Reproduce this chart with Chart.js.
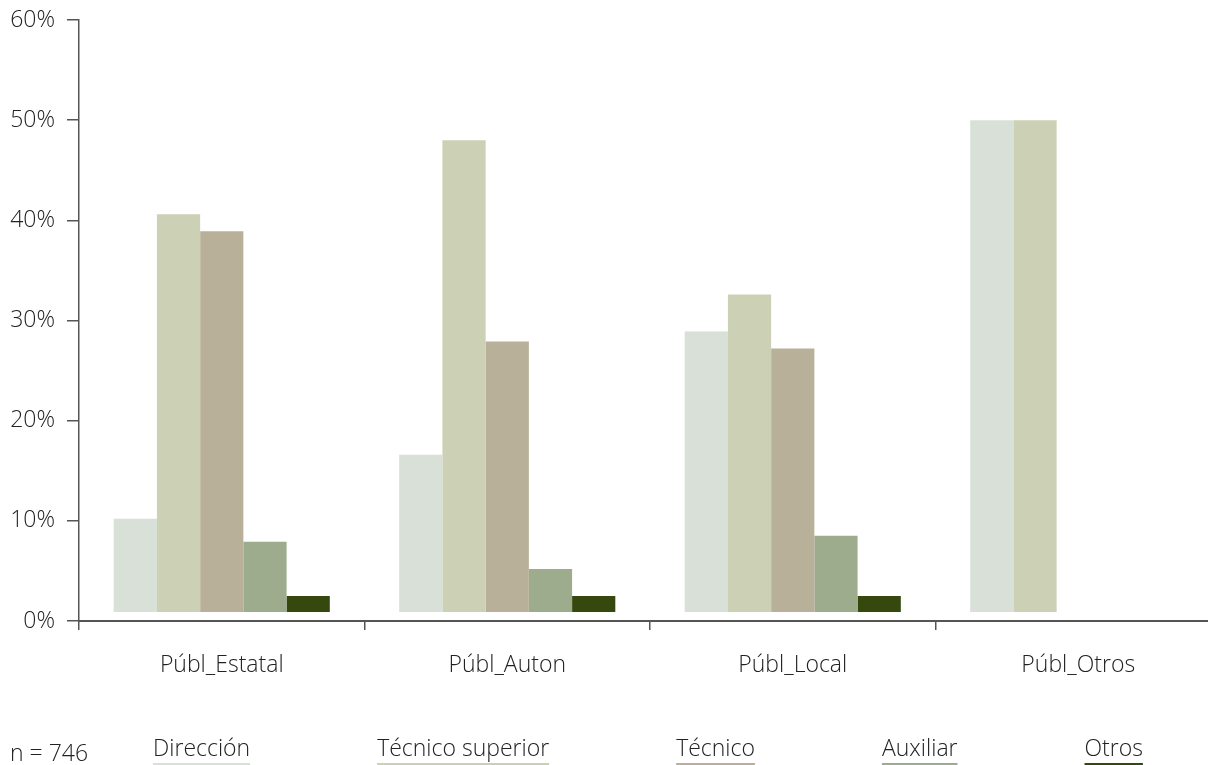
<!DOCTYPE html>
<html lang="es">
<head>
    <meta charset="UTF-8">
    <title>Puesto por sector público</title>
    <script src="https://cdn.jsdelivr.net/npm/chart.js"></script>
    <style>
        body {
            margin: 0;
            padding: 0;
            background-color: #fff;
            overflow: hidden;
        }
        .chart-box {
            width: 1221px;
            height: 765px;
        }
    </style>
</head>
<body>
    <div class="chart-box">
        <canvas id="puestoChart" width="1221" height="765"></canvas>
    </div>

    <script>
        // Categories and series (percent of respondents)
        const sectores = ['Públ_Estatal', 'Públ_Auton', 'Públ_Local', 'Públ_Otros'];
        const direccion = [10.2, 16.6, 28.9, 50.0];
        const tecnicoSuperior = [40.6, 48.0, 32.6, 50.0];
        const tecnico = [38.9, 27.9, 27.2, null];
        const auxiliar = [7.9, 5.2, 8.5, null];
        const otros = [2.5, 2.5, 2.5, null];
        const yTicks = [0, 10, 20, 30, 40, 50, 60];
        const muestra = 'n = 746';

        // bars in the original sit slightly above the axis
        const barBase = 0.9;

        const fontFamily = '"Open Sans", Lato, "Liberation Sans", sans-serif';
        const fontSize = 23;
        const textColor = '#222';
        const axisColor = '#555';

        function serie(label, data, color) {
            return {
                label: label,
                data: data,
                backgroundColor: color,
                borderWidth: 0,
                base: barBase,
                categoryPercentage: 0.757,
                barPercentage: 1.0
            };
        }

        // legend drawn under the chart: text with a coloured line beneath
        const underlineLegend = {
            id: 'underlineLegend',
            afterDraw(chart) {
                const ctx = chart.ctx;
                ctx.save();
                ctx.font = '300 ' + fontSize + 'px ' + fontFamily;
                ctx.fillStyle = textColor;
                ctx.textAlign = 'left';
                ctx.textBaseline = 'alphabetic';
                ctx.fillText(muestra, 10, 761);

                let x = 153;
                chart.data.datasets.forEach(ds => {
                    const w = ctx.measureText(ds.label).width;
                    ctx.fillStyle = textColor;
                    ctx.fillText(ds.label, x, 756);
                    ctx.strokeStyle = ds.backgroundColor;
                    ctx.lineWidth = 2;
                    ctx.beginPath();
                    ctx.moveTo(x, 764);
                    ctx.lineTo(x + w, 764);
                    ctx.stroke();
                    x += w + 127;
                });
                ctx.restore();
            }
        };

        const ctx = document.getElementById('puestoChart').getContext('2d');
        const puestoChart = new Chart(ctx, {
            type: 'bar',
            data: {
                labels: sectores,
                datasets: [
                    serie('Dirección', direccion, '#d8e0d8'),
                    serie('Técnico superior', tecnicoSuperior, '#ccd0b4'),
                    serie('Técnico', tecnico, '#b8b098'),
                    serie('Auxiliar', auxiliar, '#9cac8c'),
                    serie('Otros', otros, '#36480e')
                ]
            },
            options: {
                responsive: false,
                animation: false,
                layout: {
                    padding: 0
                },
                plugins: {
                    legend: { display: false },
                    tooltip: { enabled: false }
                },
                scales: {
                    x: {
                        grid: {
                            offset: true,
                            drawOnChartArea: false,
                            drawTicks: true,
                            tickLength: 9,
                            color: axisColor,
                            lineWidth: 1.5
                        },
                        border: { color: axisColor, width: 2 },
                        ticks: {
                            color: textColor,
                            padding: 22,
                            font: { family: fontFamily, size: fontSize, weight: '300' }
                        },
                        afterFit(scale) {
                            scale.height = 144;
                        }
                    },
                    y: {
                        min: 0,
                        max: 60,
                        afterBuildTicks(scale) {
                            scale.ticks = yTicks.map(v => ({ value: v }));
                        },
                        grid: {
                            drawOnChartArea: false,
                            drawTicks: true,
                            tickLength: 12,
                            color: axisColor,
                            lineWidth: 1.5
                        },
                        border: { color: axisColor, width: 1.5 },
                        ticks: {
                            color: textColor,
                            padding: 12,
                            font: { family: fontFamily, size: fontSize, weight: '300' },
                            callback: v => v + '%'
                        },
                        afterFit(scale) {
                            scale.width = 79;
                            scale.paddingTop = 20;
                            scale.paddingBottom = 0;
                        }
                    }
                }
            },
            plugins: [underlineLegend]
        });
    </script>
</body>
</html>
